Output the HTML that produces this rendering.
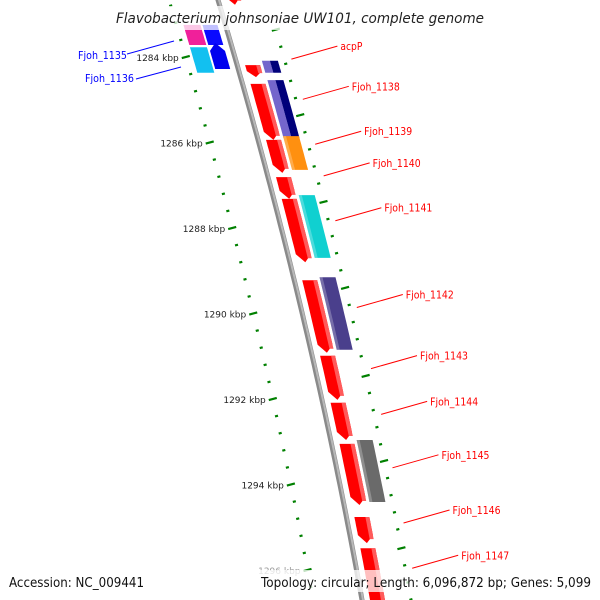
<!DOCTYPE html>
<html><head><meta charset="utf-8"><style>
html,body{margin:0;padding:0;background:#fff;overflow:hidden;width:600px;height:600px;}
svg{display:block;overflow:hidden;font-family:"DejaVu Sans","Liberation Sans",sans-serif;}
</style></head><body>
<svg id="chart" width="600" height="600" viewBox="0 0 600 600" xmlns="http://www.w3.org/2000/svg">
<g id="rings"></g>
<g id="labels"></g>
<rect x="110" y="6" width="380" height="24" fill="#fff" fill-opacity="0.75"/>
<text x="300" y="23" text-anchor="middle" font-size="14" font-style="italic" fill="#222" font-family="DejaVu Sans, sans-serif" textLength="368" lengthAdjust="spacingAndGlyphs">Flavobacterium johnsoniae UW101, complete genome</text>
<rect x="4" y="570" width="146" height="22" fill="#fff" fill-opacity="0.75"/>
<text x="9" y="587" font-size="13" fill="#111" textLength="135" lengthAdjust="spacingAndGlyphs">Accession: NC_009441</text>
<rect x="256" y="570" width="340" height="22" fill="#fff" fill-opacity="0.75"/>
<text x="591" y="587" text-anchor="end" font-size="13" fill="#111" textLength="330" lengthAdjust="spacingAndGlyphs">Topology: circular; Length: 6,096,872 bp; Genes: 5,099</text>
</svg>
<script>
// ---- data (kbp positions) ----
const ring1Names = ['top','acpP','Fjoh_1138','Fjoh_1139','Fjoh_1140','Fjoh_1141','Fjoh_1142','Fjoh_1143','Fjoh_1144','Fjoh_1145','Fjoh_1146','Fjoh_1147'];
const ring1Start = [1282.40,1284.19,1284.63,1285.94,1286.81,1287.32,1289.22,1290.99,1292.09,1293.05,1294.76,1295.49];
const ring1End   = [1282.78,1284.47,1285.94,1286.71,1287.32,1288.80,1290.92,1292.02,1292.96,1294.48,1295.37,1296.90];
const ring2Start = [1284.09,1284.54,1285.85,1287.23,1289.15,1292.96];
const ring2End   = [1284.37,1285.89,1286.64,1288.70,1290.85,1294.41];
const ring2Color = ['split','split','#ff9010','#10d0d0','#4a3f8c','#6a6a6a'];
const leftStart  = [1283.25,1283.25,1283.77,1283.67];
const leftEnd    = [1283.72,1283.72,1284.37,1284.28];
const leftRing   = [1,2,1,2];
const leftColor  = ['#f0209a','#0a0aff','#12c0f0','#0000ee'];
const rulerMajors = [1284,1286,1288,1290,1292,1294,1296];
const rulerLabels = ['1284 kbp','1286 kbp','1288 kbp','1290 kbp','1292 kbp','1294 kbp','1296 kbp'];
const rightMajors = [1283.36,1285.36,1287.39,1289.40,1291.46,1293.45,1295.49];
const labelNames = ['acpP','Fjoh_1138','Fjoh_1139','Fjoh_1140','Fjoh_1141','Fjoh_1142','Fjoh_1143','Fjoh_1144','Fjoh_1145','Fjoh_1146','Fjoh_1147'];
const labelKbp   = [1284.05,1284.99,1286.04,1286.78,1287.83,1289.86,1291.29,1292.36,1293.61,1294.90,1295.96];

// ---- axis functions ----
const Y = k => 57 + (k - 1284) * 42.75;
const X = y => 218 + 0.30 * y - 0.0001 * y * y;
const NS = 'http://www.w3.org/2000/svg';
const rings = document.getElementById('rings');
const labels = document.getElementById('labels');
function mk(tag, attrs, parent){ const e=document.createElementNS(NS,tag); for(const k in attrs) e.setAttribute(k,attrs[k]); parent.appendChild(e); return e; }
function band(y1,y2,o1,o2,arrow){
  const pts=[]; const n=8;
  let ya=y1, yb=y2; const ah=Math.min(8,(y2-y1)/2);
  if(arrow==='down') yb=y2-ah; if(arrow==='up') ya=y1+ah;
  if(arrow==='up') pts.push([X(y1)+(o1+o2)/2,y1]);
  for(let i=0;i<=n;i++){const y=ya+(yb-ya)*i/n; pts.push([X(y)+o2,y]);}
  if(arrow==='down') pts.push([X(y2)+(o1+o2)/2,y2]);
  for(let i=n;i>=0;i--){const y=ya+(yb-ya)*i/n; pts.push([X(y)+o1,y]);}
  return pts.map(p=>p[0].toFixed(1)+','+Math.max(-5,Math.min(605,p[1])).toFixed(1)).join(' ');
}
let bb=[]; for(let y=-5;y<=605;y+=10) bb.push(X(y).toFixed(1)+','+y);
const back=mk('polyline',{points:bb.join(' '),fill:'none',stroke:'#8a8a8a','stroke-width':5},rings);


const back2=mk('polyline',{points:bb.join(' '),fill:'none',stroke:'#b8b8b8','stroke-width':2,transform:'translate(1,0)'},rings);



ring1Start.forEach((s,i)=>{
  const y1=Y(s), y2=Y(ring1End[i]);
  const p=mk('polygon',{points:band(y1,y2,8,23,'down'),fill:'#ff0000'},rings);
  
  
  const h=mk('polygon',{points:band(y1,y2-4,19,23,null),fill:'#ff5a5a'},rings);
  
  
});
ring2Start.forEach((s,i)=>{
  const y1=Y(s), y2=Y(ring2End[i]);
  if(ring2Color[i]==='split'){
    const a=mk('polygon',{points:band(y1,y2,26,34,null),fill:'#7466cc'},rings);
    
    
    const b=mk('polygon',{points:band(y1,y2,34,42,null),fill:'#00007a'},rings);
    
    
  } else {
    const a=mk('polygon',{points:band(y1,y2,26,42,null),fill:ring2Color[i]},rings);
    
    
    const h=mk('polygon',{points:band(y1,y2,26,29,null),fill:'#ffffff','fill-opacity':0.25},rings);
    
    
  }
});
leftStart.forEach((s,i)=>{
  const y1=Y(s), y2=Y(leftEnd[i]);
  const o = leftRing[i]===1 ? [-42,-25] : [-23,-8];
  const a=mk('polygon',{points:band(y1,y2,o[0],o[1],i===3?'up':null),fill:leftColor[i]},rings);
  
  
});
function tick(k, off, major){
  const y=Y(k); if(y>602) return;
  const x=X(y)+off, len=major?8:3;
  const l=mk('line',{x1:x-len/2,y1:y+len*0.13,x2:x+len/2,y2:y-len*0.13,stroke:'#008000','stroke-width':2.2},rings);
  
  
}
for(let m=0;m<rulerMajors.length;m++){
  for(let j=-4;j<5;j++){ const k=rulerMajors[m]+j*0.4; if(j<0&&m>0) continue; tick(k,-49,j===0); }
  const y=Y(rulerMajors[m]);
  const t=mk('text',{x:X(y)-56,y:y+4,'text-anchor':'end','font-size':9,fill:m===6?'#999':'#222'},labels);
  t.textContent=rulerLabels[m];
  
  
}
for(let m=0;m<rightMajors.length;m++){
  for(let j=0;j<5;j++){ tick(rightMajors[m]+j*0.4,49,j===0); }
}
labelNames.forEach((n,i)=>{
  const y=Y(labelKbp[i]), x0=X(y)+56;
  const ln=mk('line',{x1:x0,y1:y,x2:x0+46,y2:y-13,stroke:'#ff0000','stroke-width':1},labels);
  
  
  const t=mk('text',{x:x0+49,y:y-9,'font-size':11,fill:'#ff0000',textLength:n==='acpP'?22:48,lengthAdjust:'spacingAndGlyphs'},labels);
  t.textContent=n;
  
  
});
[['Fjoh_1135',78,59,127,54,174,41],['Fjoh_1136',85,82,136,79,181,67]].forEach(d=>{
  const ln=mk('line',{x1:d[3],y1:d[4],x2:d[5],y2:d[6],stroke:'#0000ff','stroke-width':1},labels);
  
  
  const t=mk('text',{x:d[1],y:d[2],'font-size':11,fill:'#0000ff',textLength:49,lengthAdjust:'spacingAndGlyphs'},labels);
  t.textContent=d[0];
  
  
});
</script>
</body></html>
